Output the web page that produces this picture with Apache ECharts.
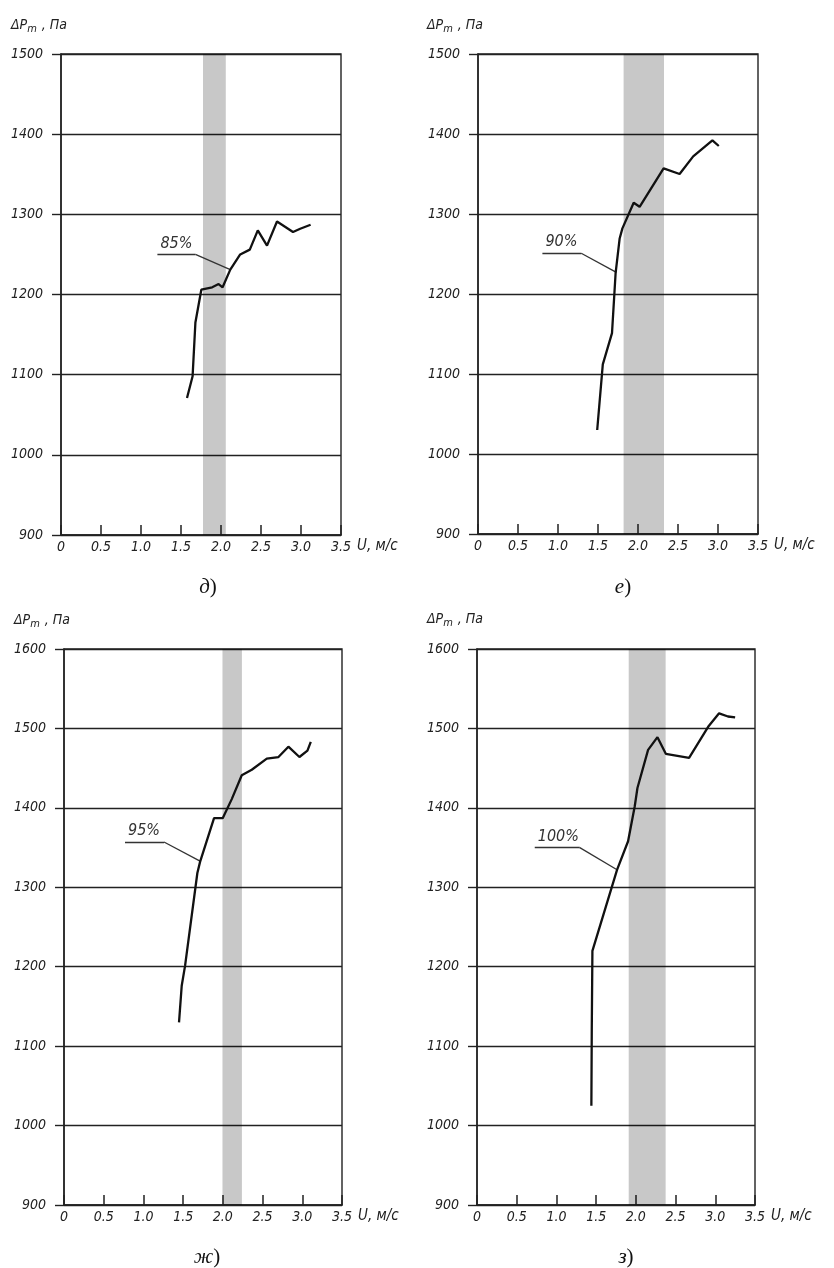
<!DOCTYPE html>
<html><head><meta charset="utf-8">
<script src="https://cdn.jsdelivr.net/npm/echarts@6/dist/echarts.min.js"></script>
<style>html,body{margin:0;padding:0;background:#fff}#c{width:834px;height:1268px}</style>
</head><body><div id="c"></div>
<script>
// ---- data ----
const xTicks = [0, 0.5, 1, 1.5, 2, 2.5, 3, 3.5];
const xTickLabels = ['0', '0.5', '1.0', '1.5', '2.0', '2.5', '3.0', '3.5'];
const yTicksTop = [900, 1000, 1100, 1200, 1300, 1400, 1500];
const yTicksBottom = [900, 1000, 1100, 1200, 1300, 1400, 1500, 1600];

const U_d = [1.575, 1.645, 1.68, 1.754, 1.89, 1.97, 2.02, 2.116, 2.24, 2.36, 2.46, 2.575, 2.70, 2.90, 2.99, 3.12];
const P_d = [1071, 1098, 1165, 1206, 1209, 1213, 1209, 1231, 1250, 1256, 1280, 1261, 1291, 1278, 1282, 1287];
const band_d = [1.775, 2.06];
const leader_d = [[1.205, 1250], [1.68, 1250], [2.116, 1231]];

const U_e = [1.49, 1.56, 1.675, 1.72, 1.77, 1.805, 1.946, 2.02, 2.32, 2.52, 2.69, 2.93, 3.01];
const P_e = [1030, 1112, 1151, 1226, 1269, 1282, 1314, 1309, 1357, 1350, 1372, 1392, 1385];
const band_e = [1.82, 2.325];
const leader_e = [[0.805, 1251], [1.29, 1251], [1.73, 1227]];

const U_zh = [1.448, 1.482, 1.524, 1.679, 1.713, 1.889, 1.998, 2.112, 2.238, 2.364, 2.553, 2.70, 2.825, 2.964, 3.065, 3.107];
const P_zh = [1130, 1176, 1201, 1318, 1332, 1387, 1387, 1411, 1441, 1448, 1462, 1464, 1477, 1464, 1472, 1483];
const band_zh = [1.995, 2.24];
const leader_zh = [[0.768, 1357], [1.259, 1357], [1.713, 1333]];

const U_z = [1.44, 1.445, 1.453, 1.763, 1.902, 1.986, 2.02, 2.154, 2.272, 2.377, 2.67, 2.91, 3.048, 3.16, 3.25];
const P_z = [1025, 1122, 1220, 1322, 1358, 1402, 1425, 1473, 1489, 1468, 1463, 1502, 1519, 1515, 1514];
const band_z = [1.91, 2.375];
const leader_z = [[0.727, 1350], [1.294, 1350], [1.763, 1322]];

const curveLabels = ['85%', '90%', '95%', '100%'];
const captions = ['д', 'е', 'ж', 'з'];
const yAxisTitle = ['ΔP', 'm', ' , Па'];
const xAxisTitle = 'U, м/с';

// ---- layout / style ----
const FONT = '"DejaVu Sans Condensed","DejaVu Sans",sans-serif';
const SERIF = '"Liberation Serif","DejaVu Serif",serif';
const INK = '#222';
const panels = [
  {U: U_d, P: P_d, band: band_d, leader: leader_d, yTicks: yTicksTop,
   grid: {left: 61, top: 54, width: 280, height: 481}, title: [11, 25], cap: [208, 587]},
  {U: U_e, P: P_e, band: band_e, leader: leader_e, yTicks: yTicksTop,
   grid: {left: 478, top: 54, width: 280, height: 480}, title: [427, 25], cap: [623, 587]},
  {U: U_zh, P: P_zh, band: band_zh, leader: leader_zh, yTicks: yTicksBottom,
   grid: {left: 64, top: 649, width: 278, height: 556}, title: [14, 620], cap: [207, 1257]},
  {U: U_z, P: P_z, band: band_z, leader: leader_z, yTicks: yTicksBottom,
   grid: {left: 477, top: 649, width: 278, height: 556}, title: [427, 619], cap: [626, 1257]}
];

const grids = [], xAxes = [], yAxes = [], series = [], graphics = [];
panels.forEach((p, i) => {
  grids.push(Object.assign({show: true, borderColor: INK, borderWidth: 1.4, backgroundColor: 'transparent', containLabel: false}, p.grid));
  xAxes.push({
    type: 'value', gridIndex: i, min: xTicks[0], max: xTicks[xTicks.length - 1], interval: 0.5,
    axisLine: {show: true, onZero: false, lineStyle: {color: INK, width: 1.5}},
    axisTick: {show: true, inside: true, length: 10, lineStyle: {color: INK, width: 1.5}},
    splitLine: {show: false},
    axisLabel: {margin: 5, fontFamily: FONT, fontStyle: 'italic', fontSize: 14, color: INK,
      formatter: v => xTickLabels[xTicks.indexOf(Math.round(v * 2) / 2)]},
    name: xAxisTitle, nameLocation: 'end', nameGap: 16,
    nameTextStyle: {fontFamily: FONT, fontStyle: 'italic', fontSize: 15, color: INK, verticalAlign: 'top', padding: [4, 0, 0, 0]}
  });
  yAxes.push({
    type: 'value', gridIndex: i, min: p.yTicks[0], max: p.yTicks[p.yTicks.length - 1], interval: 100,
    axisLine: {show: true, lineStyle: {color: INK, width: 1.5}},
    axisTick: {show: true, inside: false, length: 9, lineStyle: {color: INK, width: 1.4}},
    splitLine: {show: true, lineStyle: {color: INK, width: 1.4}},
    axisLabel: {margin: 18, fontFamily: FONT, fontStyle: 'italic', fontSize: 14, color: INK,
      formatter: v => String(p.yTicks[p.yTicks.indexOf(Math.round(v))])}
  });
  series.push({
    type: 'line', xAxisIndex: i, yAxisIndex: i, symbol: 'none', showSymbol: false, silent: true,
    data: p.U.map((u, k) => [u, p.P[k]]),
    lineStyle: {color: '#111', width: 2.3},
    z: 5,
    markArea: {silent: true, itemStyle: {color: 'rgba(0,0,0,0.215)'},
      data: [[{xAxis: p.band[0]}, {xAxis: p.band[1]}]]},
    markLine: {silent: true, symbol: 'none', animation: false,
      lineStyle: {color: '#333', width: 1.3, type: 'solid'},
      label: {show: false},
      data: [
        [{coord: p.leader[0], label: {show: true, position: 'insideStartTop', distance: 3, formatter: curveLabels[i],
            fontFamily: FONT, fontStyle: 'italic', fontSize: 16, color: '#333'}},
         {coord: p.leader[1]}],
        [{coord: p.leader[1]}, {coord: p.leader[2]}]
      ]}
  });
  graphics.push({
    type: 'text', x: p.title[0], y: p.title[1],
    style: {
      text: '{a|' + yAxisTitle[0] + '}{s|' + yAxisTitle[1] + '}{a|' + yAxisTitle[2] + '}',
      verticalAlign: 'middle', align: 'left',
      rich: {
        a: {fontFamily: FONT, fontStyle: 'italic', fontSize: 14, fill: INK, lineHeight: 17},
        s: {fontFamily: FONT, fontStyle: 'italic', fontSize: 11, fill: INK, padding: [8, 1, 0, 0], lineHeight: 13}
      }
    }
  });
  graphics.push({
    type: 'text', x: p.cap[0], y: p.cap[1],
    style: {
      text: '{i|' + captions[i] + '}{n|)}',
      align: 'center', verticalAlign: 'middle',
      rich: {
        i: {fontFamily: SERIF, fontStyle: 'italic', fontSize: 21, fill: '#111'},
        n: {fontFamily: SERIF, fontSize: 21, fill: '#111'}
      }
    }
  });
});

const chart = echarts.init(document.getElementById('c'), null, {renderer: 'canvas'});
chart.setOption({
  animation: false,
  backgroundColor: '#fff',
  grid: grids, xAxis: xAxes, yAxis: yAxes, series: series, graphic: graphics
});
</script></body></html>
